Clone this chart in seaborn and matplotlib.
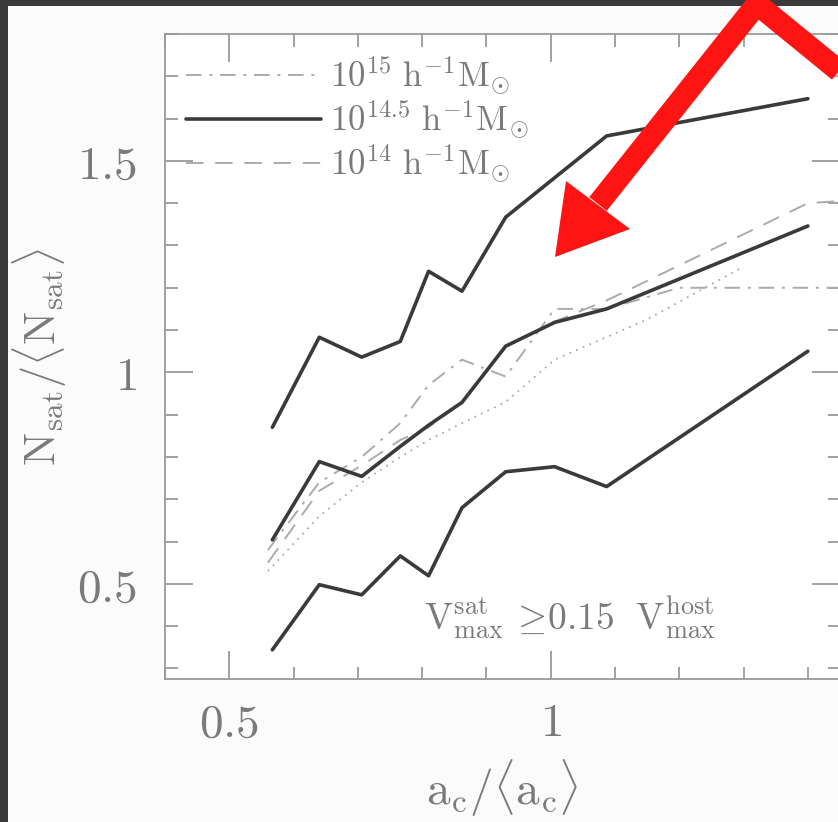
import numpy as np
import pandas as pd
import matplotlib
matplotlib.use("Agg")
import matplotlib.pyplot as plt
import seaborn as sns
from matplotlib.ticker import MultipleLocator, FixedLocator, FuncFormatter
from matplotlib.lines import Line2D
from matplotlib.patches import Polygon, Rectangle

# ---------------- data ----------------
ac_bins = [0.567, 0.640, 0.706, 0.766, 0.810, 0.862, 0.930, 1.006, 1.087, 1.400]
nsat_145_med = [0.604, 0.789, 0.754, 0.825, 0.875, 0.929, 1.062, 1.118, 1.150, 1.346]
nsat_145_hi = [0.870, 1.083, 1.036, 1.073, 1.239, 1.192, 1.367, 1.460, 1.559, 1.647]
nsat_145_lo = [0.344, 0.498, 0.474, 0.566, 0.519, 0.680, 0.765, 0.777, 0.730, 1.050]

ac_15 = [0.560, 0.640, 0.706, 0.766, 0.810, 0.862, 0.930, 1.006, 1.087, 1.200, 1.500]
nsat_15 = [0.58, 0.74, 0.80, 0.88, 0.97, 1.03, 0.99, 1.15, 1.15, 1.20, 1.20]

ac_14 = [0.560, 0.640, 0.706, 0.766, 0.810, 0.862, 0.930, 1.006, 1.087, 1.400, 1.500]
nsat_14 = [0.55, 0.72, 0.78, 0.84, 0.87, 0.93, 1.06, 1.12, 1.17, 1.40, 1.41]

ac_dot = [0.560, 0.640, 0.706, 0.766, 0.810, 0.862, 0.930, 1.006, 1.150, 1.300]
nsat_dot = [0.53, 0.66, 0.74, 0.80, 0.84, 0.88, 0.93, 1.03, 1.125, 1.25]

legend_labels = [r"$10^{15}\ \mathrm{h}^{-1}\mathrm{M}_{\odot}$",
                 r"$10^{14.5}\ \mathrm{h}^{-1}\mathrm{M}_{\odot}$",
                 r"$10^{14}\ \mathrm{h}^{-1}\mathrm{M}_{\odot}$"]
x_ticks = [0.5, 1.0]
y_ticks = [0.5, 1.0, 1.5]

# ---------------- style ----------------
sns.set_style("ticks")
plt.rcParams["mathtext.fontset"] = "cm"
plt.rcParams["font.family"] = ["DejaVu Serif"]

W, H = 838, 822
fig = plt.figure(figsize=(W / 100, H / 100), dpi=100)
fig.patch.set_facecolor("#fbfbfb")

# axes position in pixels: left 165, right ~840, top 34, bottom 679
ax = fig.add_axes([165 / W, (H - 679) / H, (840 - 165) / W, (679 - 34) / H])
ax.set_facecolor("#ffffff")

dark = "#3a3a3a"
thin = "#ababab"

def line(x, y, **kw):
    df = pd.DataFrame({"x": x, "y": y})
    sns.lineplot(data=df, x="x", y="y", ax=ax, sort=False, estimator=None, **kw)

line(ac_bins, nsat_145_hi, color=dark, linewidth=2.6)
line(ac_bins, nsat_145_lo, color=dark, linewidth=2.6)
line(ac_dot, nsat_dot, color=thin, linewidth=1.3, linestyle=(0, (1, 3)))
line(ac_15, nsat_15, color=thin, linewidth=1.4, linestyle=(0, (8, 4, 1.5, 4)))
line(ac_14, nsat_14, color=thin, linewidth=1.4, linestyle=(0, (9, 6)))
line(ac_bins, nsat_145_med, color=dark, linewidth=2.6)

ax.set_xlim(0.4, 1.45)
ax.set_ylim(0.275, 1.8)

tick_col = "#9a9a9a"
lab_col = "#7a7a7a"
ax.xaxis.set_major_locator(FixedLocator(x_ticks))
ax.yaxis.set_major_locator(FixedLocator(y_ticks))
ax.xaxis.set_minor_locator(MultipleLocator(0.1))
ax.yaxis.set_minor_locator(MultipleLocator(0.1))
fmt = FuncFormatter(lambda v, p: f"${v:g}$")
ax.xaxis.set_major_formatter(fmt)
ax.yaxis.set_major_formatter(fmt)
ax.tick_params(which="both", direction="in", top=True, right=True,
               color=tick_col, width=1.3, labelcolor=lab_col, labelsize=34)
ax.tick_params(which="major", length=20)
ax.tick_params(which="minor", length=9)
ax.tick_params(axis="x", which="major", pad=16)
ax.tick_params(axis="y", which="major", pad=20)
for s in ax.spines.values():
    s.set_color(tick_col)
    s.set_linewidth(1.3)

ax.set_xlabel(r"$\mathrm{a_c}/\langle\mathrm{a_c}\rangle$", fontsize=34,
              color=lab_col, labelpad=8)
ax.set_ylabel(r"$\mathrm{N_{sat}}/\langle\mathrm{N_{sat}}\rangle$", fontsize=32,
              color=lab_col, labelpad=6)

ax.text(1.03, 0.42,
        r"$\mathrm{V}^{\rm sat}_{\rm max}\,\geq\!0.15\ \ \mathrm{V}^{\rm host}_{\rm max}$",
        fontsize=27, color=lab_col, ha="center", va="center")

handles = [Line2D([], [], color=thin, linewidth=1.4, linestyle=(0, (8, 4, 1.5, 4))),
           Line2D([], [], color=dark, linewidth=2.6),
           Line2D([], [], color=thin, linewidth=1.4, linestyle=(0, (9, 6)))]
leg = ax.legend(handles, legend_labels, loc="upper left", frameon=False,
                fontsize=25, handlelength=3.9, handletextpad=0.25,
                labelspacing=0.05, borderaxespad=0.2,
                bbox_to_anchor=(0.0, 1.0))
for t in leg.get_texts():
    t.set_color(lab_col)

# ---------------- slide frame & red arrow (figure pixels) ----------------
def fx(px):
    return px / W

def fy(py):
    return 1 - py / H

fig.add_artist(Rectangle((0, 0), fx(8), 1, transform=fig.transFigure,
                         facecolor=dark, edgecolor="none", zorder=5))
fig.add_artist(Rectangle((0, fy(6)), 1, fy(0) - fy(6), transform=fig.transFigure,
                         facecolor=dark, edgecolor="none", zorder=5))

red = "#ff1414"
fig.add_artist(Line2D([fx(850), fx(757), fx(598)], [fy(80), fy(4), fy(204)],
                      transform=fig.transFigure, color=red, linewidth=16,
                      solid_joinstyle="miter", solid_capstyle="butt", zorder=10))
fig.add_artist(Polygon([[fx(555), fy(257)], [fx(566), fy(181)], [fx(630), fy(229)]],
                       closed=True, transform=fig.transFigure,
                       facecolor=red, edgecolor="none", zorder=10))

fig.savefig("out.png", dpi=100, facecolor=fig.get_facecolor())
